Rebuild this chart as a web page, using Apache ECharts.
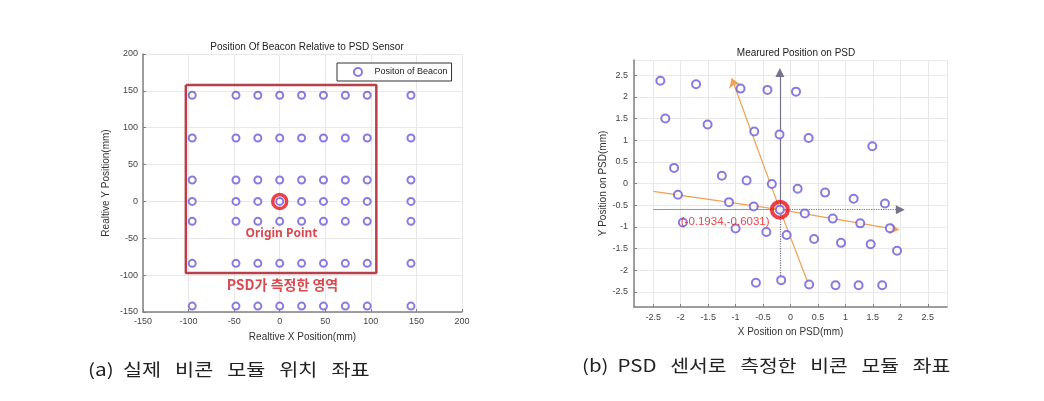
<!DOCTYPE html>
<html><head><meta charset="utf-8">
<script src="https://cdn.jsdelivr.net/npm/echarts@6/dist/echarts.min.js"></script>
<style>html,body{margin:0;padding:0;background:#fff}#c{width:1044px;height:401px}</style>
</head><body><div id="c"></div>
<script>
// ---- Left chart data (a) ----
const beaconCols = [-96, -48, -24, 0, 24, 48, 72, 96, 144];
const beaconRows = [144, 86, 29, 0, -27, -84, -142];
const psdRegionX = [-103, 106, 106, -103, -103];
const psdRegionY = [158, 158, -97, -97, 158];
const originLeft = [0, 0];

// ---- Right chart data (b) ----
const measuredX = [-2.37,-1.72,-0.91,-0.42,0.10,-2.28,-1.51,-0.66,-0.20,0.33,1.49,-2.12,-1.25,-0.80,-0.34,0.13,0.63,1.15,1.72,-2.05,-1.12,-0.67,-0.1934,0.26,0.77,1.27,1.81,-1.96,-1.00,-0.44,-0.07,0.43,0.92,1.46,1.94,-0.63,-0.17,0.34,0.82,1.24,1.67];
const measuredY = [2.37,2.29,2.19,2.16,2.12,1.50,1.36,1.20,1.13,1.05,0.86,0.36,0.18,0.07,-0.01,-0.12,-0.21,-0.35,-0.46,-0.26,-0.43,-0.53,-0.6031,-0.69,-0.81,-0.92,-1.03,-0.90,-1.04,-1.12,-1.19,-1.28,-1.37,-1.40,-1.55,-2.29,-2.23,-2.33,-2.35,-2.35,-2.35];
const originRight = [-0.1934, -0.6031];
const orangeTailA = [[-2.5, -0.18], [-0.1934, -0.6031]];
const orangeHeadA = [[-0.1934, -0.6031], [1.97, -1.07]];
const orangeTailB = [[0.33, -2.33], [-0.1934, -0.6031]];
const orangeHeadB = [[-0.1934, -0.6031], [-1.07, 2.43]];
const grayUp = [[-0.1934, -0.6031], [-0.1934, 2.56]];
const grayDown = [[-0.1934, -0.6031], [-0.1934, -2.15]];
const grayLeft = [[-2.5, -0.6031], [-0.1934, -0.6031]];
const grayRight = [[-0.1934, -0.6031], [2.0, -0.6031]];

const beaconPts = [];
beaconRows.forEach(y => beaconCols.forEach(x => beaconPts.push([x, y])));
const measuredPts = measuredX.map((x, i) => [x, measuredY[i]]);
const regionPts = psdRegionX.map((x, i) => [x, psdRegionY[i]]);

const markerColor = '#6a5ad8';
const axisLineCol = '#808080';
const gridCol = '#e8e8e8';
const tickFont = {fontSize: 9, color: '#444', fontFamily: 'Liberation Sans'};
const nameFont = {fontSize: 10, color: '#333', fontFamily: 'Liberation Sans'};

function linesSeries(name, coords, color, type, arrow) {
  return {name: name, type: 'lines', coordinateSystem: 'cartesian2d', xAxisIndex: 1, yAxisIndex: 1,
    data: [{coords: coords}], symbol: arrow ? ['none', arrow] : 'none', symbolSize: arrow ? [0, 9] : 0,
    lineStyle: {color: color, width: 1.2, type: type, opacity: 1}, z: 3, silent: true};
}

const chart = echarts.init(document.getElementById('c'), null, {renderer: 'canvas'});
chart.setOption({
  animation: false,
  backgroundColor: '#fff',
  title: [
    {text: 'Position Of Beacon Relative to PSD Sensor', left: 302, top: 37, textAlign: 'center',
     textStyle: {fontSize: 10, fontWeight: 'normal', color: '#222', fontFamily: 'Liberation Sans'}},
    {text: 'Mearured Position on PSD', left: 791, top: 43, textAlign: 'center',
     textStyle: {fontSize: 10, fontWeight: 'normal', color: '#222', fontFamily: 'Liberation Sans'}}
  ],
  legend: {
    data: ['Positon of Beacon'],
    left: 337, top: 63, orient: 'horizontal',
    padding: [4, 4, 4, 16], itemWidth: 23, itemHeight: 8, itemGap: 4,
    borderColor: '#333', borderWidth: 1, backgroundColor: '#fff',
    textStyle: {fontSize: 9, color: '#222', fontFamily: 'Liberation Sans'}
  },
  grid: [
    {left: 143, right: 1044 - 462, top: 54, bottom: 401 - 312},
    {left: 634, right: 1044 - 947, top: 60, bottom: 401 - 307}
  ],
  xAxis: [
    {gridIndex: 0, type: 'value', min: -150, max: 200, interval: 50,
     name: 'Realtive X Position(mm)', nameLocation: 'middle', nameGap: 20, nameTextStyle: nameFont,
     axisLine: {show: true, onZero: false, lineStyle: {color: axisLineCol, width: 1.5}},
     axisTick: {show: true, inside: true, length: 3, lineStyle: {color: axisLineCol}},
     axisLabel: Object.assign({margin: 5}, tickFont),
     splitLine: {show: true, lineStyle: {color: gridCol}}},
    {gridIndex: 1, type: 'value', min: -2.85, max: 2.85, splitNumber: 11,
     name: 'X Position on PSD(mm)', nameLocation: 'middle', nameGap: 20, nameTextStyle: nameFont,
     axisLine: {show: true, onZero: false, lineStyle: {color: axisLineCol, width: 1.5}},
     axisTick: {show: true, inside: true, length: 3, lineStyle: {color: axisLineCol}},
     axisLabel: Object.assign({margin: 6, showMinLabel: false, showMaxLabel: false}, tickFont),
     splitLine: {show: true, lineStyle: {color: gridCol}}}
  ],
  yAxis: [
    {gridIndex: 0, type: 'value', min: -150, max: 200, interval: 50,
     name: 'Realtive Y Position(mm)', nameLocation: 'middle', nameGap: 32, nameTextStyle: nameFont,
     axisLine: {show: true, onZero: false, lineStyle: {color: axisLineCol, width: 1.5}},
     axisTick: {show: true, inside: true, length: 3, lineStyle: {color: axisLineCol}},
     axisLabel: Object.assign({margin: 5}, tickFont),
     splitLine: {show: true, lineStyle: {color: gridCol}}},
    {gridIndex: 1, type: 'value', min: -2.85, max: 2.85, splitNumber: 11,
     name: 'Y Position on PSD(mm)', nameLocation: 'middle', nameGap: 25, nameTextStyle: nameFont,
     axisLine: {show: true, onZero: false, lineStyle: {color: axisLineCol, width: 1.5}},
     axisTick: {show: true, inside: true, length: 3, lineStyle: {color: axisLineCol}},
     axisLabel: Object.assign({margin: 6, showMinLabel: false, showMaxLabel: false}, tickFont),
     splitLine: {show: true, lineStyle: {color: gridCol}}}
  ],
  series: [
    // ----- left -----
    {name: 'psd region', type: 'line', xAxisIndex: 0, yAxisIndex: 0, data: regionPts,
     symbol: 'none', lineStyle: {color: '#b8404a', width: 2.5}, z: 3, silent: true},
    {name: 'Positon of Beacon', type: 'scatter', xAxisIndex: 0, yAxisIndex: 0, data: beaconPts,
     symbol: 'emptyCircle', symbolSize: 7,
     itemStyle: {color: markerColor, borderColor: markerColor, borderWidth: 1.2}, z: 4},
    {name: 'origin left', type: 'scatter', xAxisIndex: 0, yAxisIndex: 0, data: [originLeft],
     symbol: 'circle', symbolSize: 14,
     itemStyle: {color: 'transparent', borderColor: '#e8101a', borderWidth: 3.5}, z: 6},
    {name: 'labels left', type: 'scatter', xAxisIndex: 0, yAxisIndex: 0, symbolSize: 0, z: 7,
     data: [
       {value: [2, -43], label: {show: true, formatter: 'Origin Point', position: 'inside',
        fontSize: 12, fontWeight: 'bold', color: '#d01c24', fontFamily: 'Noto Sans'}},
       {value: [3, -113], label: {show: true, formatter: 'PSD가 측정한 영역', position: 'inside',
        fontSize: 14, fontWeight: 'bold', color: '#d01c24', fontFamily: 'Noto Sans CJK KR'}}
     ]},
    // ----- right -----
    linesSeries('gray up', grayUp, '#77718c', 'solid', 'triangle'),
    linesSeries('gray right', grayRight, '#77718c', 'dotted', 'triangle'),
    linesSeries('gray down', grayDown, '#77718c', 'dotted', null),
    linesSeries('gray left', grayLeft, '#9a96a8', 'solid', null),
    linesSeries('orange tail a', orangeTailA, '#f0a050', 'solid', null),
    linesSeries('orange head a', orangeHeadA, '#f0a050', 'solid', 'arrow'),
    linesSeries('orange tail b', orangeTailB, '#f0a050', 'solid', null),
    linesSeries('orange head b', orangeHeadB, '#f0a050', 'solid', 'arrow'),
    {name: 'Measured', type: 'scatter', xAxisIndex: 1, yAxisIndex: 1, data: measuredPts,
     symbol: 'emptyCircle', symbolSize: 8,
     itemStyle: {color: markerColor, borderColor: markerColor, borderWidth: 1.2}, z: 4},
    {name: 'origin right', type: 'scatter', xAxisIndex: 1, yAxisIndex: 1, data: [originRight],
     symbol: 'circle', symbolSize: 16,
     itemStyle: {color: 'transparent', borderColor: '#e8101a', borderWidth: 4}, z: 6},
    {name: 'labels right', type: 'scatter', xAxisIndex: 1, yAxisIndex: 1, symbolSize: 0, z: 7,
     data: [
       {value: [-1.19, -0.88], label: {show: true, formatter: '(-0.1934,-0.6031)', position: 'inside',
        fontSize: 11.5, color: '#e8141e', fontFamily: 'Liberation Sans'}}
     ]}
  ],
  graphic: [
    {type: 'text', x: 88, y: 361, scaleX: 1.22,
     style: {text: '(a)  실제   비콘   모듈   위치   좌표', fontSize: 17, fill: '#222',
       fontFamily: 'Noto Sans CJK KR'}},
    {type: 'text', x: 582, y: 357, scaleX: 1.2,
     style: {text: '(b)  PSD   센서로   측정한   비콘   모듈   좌표', fontSize: 17, fill: '#222',
       fontFamily: 'Noto Sans CJK KR'}}
  ]
});
</script></body></html>
